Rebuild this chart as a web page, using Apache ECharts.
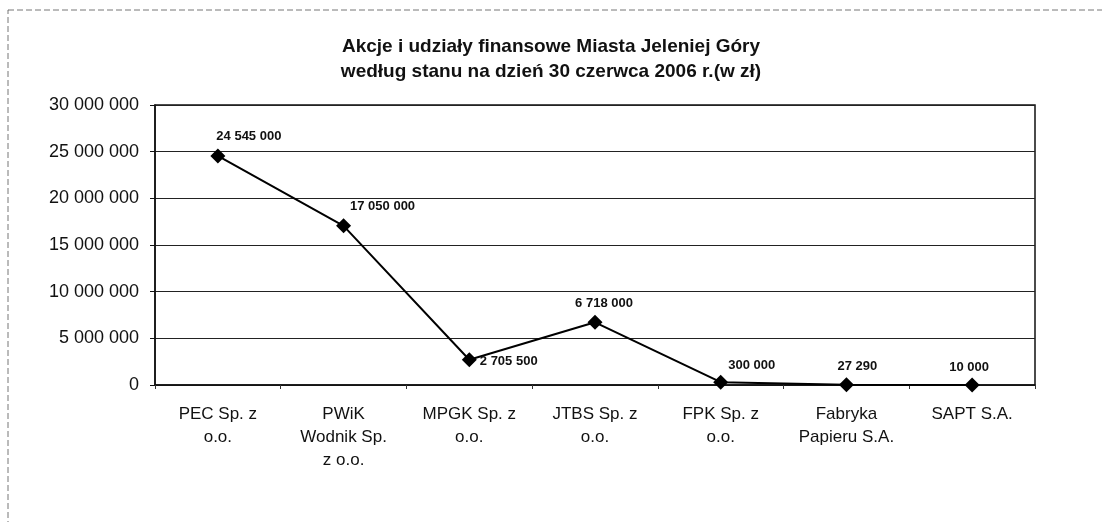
<!DOCTYPE html>
<html>
<head>
<meta charset="utf-8">
<script src="https://cdn.jsdelivr.net/npm/echarts@6/dist/echarts.min.js"></script>
<style>
  html, body { margin: 0; padding: 0; background: #fff; }
  #chart { width: 1102px; height: 522px; }
</style>
</head>
<body>
<div id="chart"></div>
<script>
// categories as printed under the axis (line breaks as in the original)
const companies = [
    'PEC Sp. z\no.o.',
    'PWiK\nWodnik Sp.\nz o.o.',
    'MPGK Sp. z\no.o.',
    'JTBS Sp. z\no.o.',
    'FPK Sp. z\no.o.',
    'Fabryka\nPapieru S.A.',
    'SAPT S.A.'
];
const shareValues = [24545000, 17050000, 2705500, 6718000, 300000, 27290, 10000];
const yTicks = [0, 5000000, 10000000, 15000000, 20000000, 25000000, 30000000];

const titleText = 'Akcje i udziały finansowe Miasta Jeleniej Góry\nwedług stanu na dzień 30 czerwca 2006 r.(w zł)';

// where each value label sits relative to its point (as hand placed in the original)
const labelPlacement = [
    {position: 'top', offset: [31, 0]},
    {position: 'top', offset: [39, 0]},
    {position: 'right', offset: [-2, 2]},
    {position: 'top', offset: [9, 0]},
    {position: 'top', offset: [31, 2]},
    {position: 'top', offset: [11, 1]},
    {position: 'top', offset: [-3, 2]}
];

// 24545000 -> "24 545 000"
const fmt = (v) => String(v).replace(/\B(?=(\d{3})+(?!\d))/g, ' ');

let chart = echarts.init(document.getElementById('chart'));

let seriesData = shareValues.map((v, i) => ({
    value: v,
    label: labelPlacement[i]
}));

let option = {
    backgroundColor: '#fff',
    animation: false,
    textStyle: {fontFamily: 'Liberation Sans, Arial, sans-serif'},

    title: {
        text: titleText,
        left: 'center',
        top: 29,
        textStyle: {
            fontSize: 19,
            fontWeight: 'bold',
            color: '#111',
            lineHeight: 25
        }
    },

    graphic: [{
        type: 'rect',
        shape: {x: 8, y: 10, width: 1110, height: 530},
        style: {fill: 'none', stroke: '#777', lineWidth: 1, lineDash: [6, 3]},
        silent: true
    }],

    grid: {
        left: 155,
        right: 67,
        top: 105,
        bottom: 137,
        show: true,
        borderColor: '#111',
        borderWidth: 1.5
    },

    xAxis: {
        type: 'category',
        data: companies,
        boundaryGap: true,
        axisLine: {lineStyle: {color: '#111', width: 1.5}},
        axisTick: {show: true, alignWithLabel: false, length: 4, lineStyle: {color: '#333'}},
        axisLabel: {
            color: '#111',
            fontSize: 17,
            lineHeight: 23,
            margin: 18,
            interval: 0
        }
    },

    yAxis: {
        type: 'value',
        min: yTicks[0],
        max: yTicks[yTicks.length - 1],
        interval: yTicks[1] - yTicks[0],
        axisLine: {show: true, lineStyle: {color: '#111', width: 1.5}},
        axisTick: {show: true, length: 5, lineStyle: {color: '#111'}},
        axisLabel: {
            color: '#111',
            fontSize: 18,
            margin: 16,
            formatter: (v) => fmt(v)
        },
        splitLine: {show: true, lineStyle: {color: '#222', width: 1}}
    },

    series: [{
        type: 'line',
        data: seriesData,
        symbol: 'diamond',
        symbolSize: 15,
        lineStyle: {color: '#000', width: 2},
        itemStyle: {color: '#000'},
        label: {
            show: true,
            position: 'top',
            color: '#111',
            fontSize: 13,
            fontWeight: 'bold',
            formatter: (p) => fmt(p.value)
        }
    }]
};

chart.setOption(option);
</script>
</body>
</html>
